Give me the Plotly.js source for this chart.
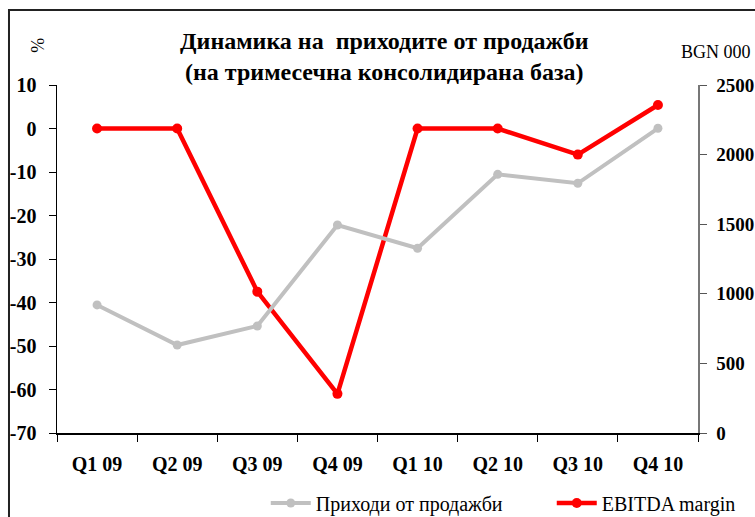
<!DOCTYPE html>
<html><head><meta charset="utf-8">
<script src="https://cdn.plot.ly/plotly-3.0.1.min.js"></script>
<style>html,body{margin:0;padding:0;background:#fff}#c{width:755px;height:517px}</style>
</head><body><div id="c"></div>
<script>
const categories = ["Q1 09","Q2 09","Q3 09","Q4 09","Q1 10","Q2 10","Q3 10","Q4 10"];
const revenue = [920, 632, 769, 1494, 1327, 1858, 1794, 2189];   // BGN 000, right axis
const ebitdaMargin = [0, 0, -37.5, -61, 0, 0, -6, 5.4];        // %, left axis
const leftTicks = [10, 0, -10, -20, -30, -40, -50, -60, -70];
const rightTicks = [0, 500, 1000, 1500, 2000, 2500];
const catBoundaries = [-0.5, 0.5, 1.5, 2.5, 3.5, 4.5, 5.5, 6.5, 7.5];

const serif = "Liberation Serif, Times New Roman, serif";
const tickFont = {family: serif, size: 20, color: "#000", weight: "bold"};
const traces = [
  {x: categories, y: revenue, yaxis: "y2", name: "Приходи от продажби", type: "scatter", mode: "lines+markers",
   line: {color: "#c0c0c0", width: 4}, marker: {color: "#c0c0c0", size: 9}},
  {x: categories, y: ebitdaMargin, yaxis: "y", name: "EBITDA margin", type: "scatter", mode: "lines+markers",
   line: {color: "#ff0000", width: 4.5}, marker: {color: "#ff0000", size: 10}}
];
const layout = {
  width: 755, height: 517,
  margin: {l: 57, r: 57, t: 85, b: 84},
  paper_bgcolor: "#fff", plot_bgcolor: "#fff",
  font: {family: serif, color: "#000"},
  showlegend: true,
  title: {text: "<b>Динамика на  приходите от продажби<br>(на тримесечна консолидирана база)</b>",
          font: {family: serif, size: 24, color: "#000"}, x: 0.509, xanchor: "center", y: 0.905, yanchor: "middle"},
  xaxis: {type: "category", range: [-0.5, 7.5], tickson: "boundaries", ticks: "outside", ticklen: 7,
          tickcolor: "#000", showline: true, linecolor: "#000", linewidth: 1.5, showgrid: false, zeroline: false,
          tickfont: tickFont, ticklabelstandoff: 12},
  xaxis2: {type: "linear", overlaying: "x", anchor: "y", range: [-0.5, 7.5], tickvals: catBoundaries,
          ticks: "inside", ticklen: 7, tickcolor: "#000", showticklabels: false, showline: false, showgrid: false, zeroline: false},
  yaxis: {range: [-70, 10], tickvals: leftTicks, ticktext: leftTicks.map(String), ticks: "outside", ticklen: 7,
          tickcolor: "#000", showline: true, linecolor: "#000", linewidth: 1.5, showgrid: false, zeroline: false,
          tickfont: tickFont, ticklabelstandoff: 8},
  yaxis2: {range: [0, 2500], tickvals: rightTicks, ticktext: rightTicks.map(String), overlaying: "y", side: "right",
          ticks: "outside", ticklen: 7, tickcolor: "#555", showline: true, linecolor: "#777", linewidth: 1.5,
          showgrid: false, zeroline: false, tickfont: {family: serif, size: 19, color: "#000", weight: "bold"}, ticklabelstandoff: 6},
  yaxis3: {range: [-70, 10], tickvals: leftTicks, overlaying: "y", side: "left", anchor: "x",
          ticks: "inside", ticklen: 7, tickcolor: "#000", showticklabels: false, showline: false, showgrid: false, zeroline: false},
  yaxis4: {range: [0, 2500], tickvals: rightTicks, overlaying: "y", side: "right", anchor: "x",
          ticks: "inside", ticklen: 7, tickcolor: "#555", showticklabels: false, showline: false, showgrid: false, zeroline: false},
  legend: {orientation: "h", xref: "container", yref: "container", x: 0.352, xanchor: "left", y: 0.027, yanchor: "middle",
           font: {family: serif, size: 20, color: "#000"}, itemwidth: 40, entrywidth: 231, tracegroupgap: 0,
           bgcolor: "rgba(0,0,0,0)"},
  annotations: [
    {text: "%", xref: "paper", yref: "paper", x: -0.03, y: 1.115, xanchor: "center", yanchor: "middle",
     showarrow: false, textangle: -90, font: {family: serif, size: 18, color: "#000"}},
    {text: "BGN 000", xref: "paper", yref: "paper", x: 1.028, y: 1.094, xanchor: "center", yanchor: "middle", showarrow: false,
     font: {family: serif, size: 18, color: "#000"}}
  ],
  shapes: [
    {type: "rect", xref: "paper", yref: "paper", x0: -0.0749, x1: 1.1, y0: -0.3, y1: 1.2155,
     line: {color: "#222", width: 2}, fillcolor: "rgba(0,0,0,0)", layer: "below"}
  ]
};
Plotly.newPlot("c", traces, layout, {displayModeBar: false, staticPlot: true});
</script></body></html>
